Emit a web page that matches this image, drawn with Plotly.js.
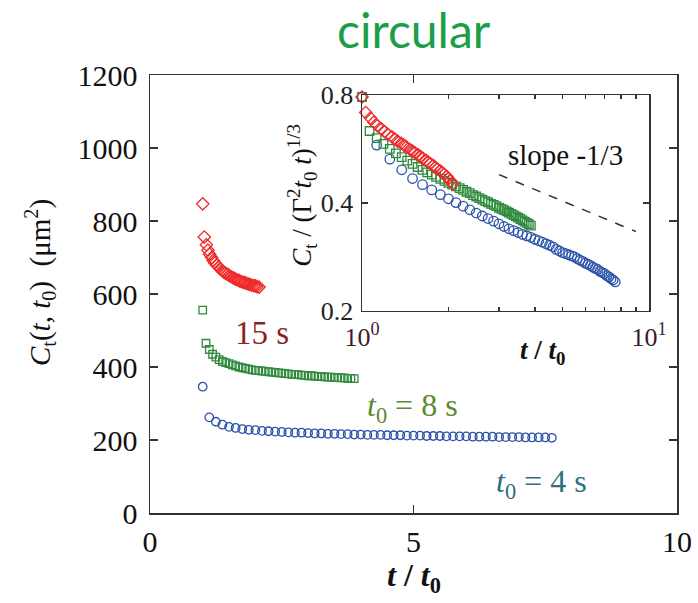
<!DOCTYPE html>
<html>
<head>
<meta charset="utf-8">
<script src="https://cdn.plot.ly/plotly-3.0.1.min.js"></script>
<style>html,body{margin:0;padding:0;background:#fff;}#chart{width:698px;height:603px;}</style>
</head>
<body>
<div id="chart"></div>
<script>
// ---- main panel data: C_t(t, t0) vs t/t0 ----
const redX = [1.00,1.03,1.07,1.10,1.13,1.17,1.20,1.23,1.27,1.30,1.33,1.37,1.40,1.43,1.47,1.50,1.53,1.57,1.60,1.63,1.67,1.70,1.73,1.77,1.80,1.83,1.87,1.90,1.93,1.97,2.00,2.03,2.07];
const redY = [847,756,735,720,709,700,692,685,679,674,669,664,660,657,654,651,648,645,643,640,638,636,634,632,631,629,627,626,624,623,622,620,619];

const greenX = [1.0,1.0625,1.125,1.1875,1.25,1.3125,1.375,1.4375,1.5,1.5625,1.625,1.6875,1.75,1.8125,1.875,1.9375,2.0,2.0625,2.125,2.1875,2.25,2.3125,2.375,2.4375,2.5,2.5625,2.625,2.6875,2.75,2.8125,2.875,2.9375,3.0,3.0625,3.125,3.1875,3.25,3.3125,3.375,3.4375,3.5,3.5625,3.625,3.6875,3.75,3.8125,3.875];
const greenY = [556,465,448,435,427,420,415,412,409,406,403,400,398,396,394,392,391,390,389,388,387,386,385,384,383,382,381,380,380,379,378,377,376,376,375,374,374,373,372,372,371,371,370,370,369,369,368];

const blueX = [1.0,1.125,1.25,1.375,1.5,1.625,1.75,1.875,2.0,2.125,2.25,2.375,2.5,2.625,2.75,2.875,3.0,3.125,3.25,3.375,3.5,3.625,3.75,3.875,4.0,4.125,4.25,4.375,4.5,4.625,4.75,4.875,5.0,5.125,5.25,5.375,5.5,5.625,5.75,5.875,6.0,6.125,6.25,6.375,6.5,6.625,6.75,6.875,7.0,7.125,7.25,7.375,7.5,7.625];
const blueY = [346,262,250,242,236,233,230,228,227,225,224,223,222,221,220,220,219,218,218,217,217,216,216,215,215,214,214,214,213,213,213,212,212,212,211,211,211,210,210,210,210,209,209,209,209,208,208,208,208,207,207,207,207,206];

// ---- inset data: C_t / (Γ^2 t0 t)^(1/3) vs t/t0 ----
const redInsetY = [0.79,0.715,0.690,0.672,0.657,0.643,0.632,0.622,0.612,0.603,0.595,0.587,0.580,0.573,0.564,0.558,0.552,0.545,0.539,0.533,0.526,0.520,0.515,0.509,0.503,0.498,0.492,0.487,0.481,0.475,0.468,0.461,0.452];
const greenInsetY = [0.79,0.635,0.607,0.585,0.566,0.550,0.537,0.525,0.514,0.504,0.495,0.487,0.480,0.473,0.467,0.461,0.455,0.450,0.445,0.440,0.435,0.430,0.426,0.421,0.417,0.413,0.409,0.405,0.402,0.398,0.395,0.392,0.388,0.385,0.382,0.379,0.376,0.373,0.370,0.367,0.364,0.361,0.358,0.355,0.352,0.349,0.346];
const blueInsetY = [0.79,0.58,0.53,0.495,0.468,0.450,0.435,0.422,0.411,0.401,0.392,0.383,0.375,0.368,0.362,0.356,0.350,0.344,0.339,0.335,0.331,0.327,0.324,0.321,0.317,0.314,0.311,0.308,0.305,0.302,0.297,0.294,0.291,0.289,0.287,0.285,0.283,0.280,0.277,0.275,0.272,0.270,0.268,0.265,0.263,0.261,0.258,0.256,0.254,0.251,0.249,0.246,0.244,0.241];

// slope -1/3 guide line
const slopeX = [3, 9];
const slopeY = [0.48, 0.333];

// ticks
const mainXTicks = [0, 5, 10];
const mainYTicks = [0, 200, 400, 600, 800, 1000, 1200];
const insetXTicks = [1,2,3,4,5,6,7,8,9,10];
const insetXText = ['10<sup>0</sup>','','','','','','','','','10<sup>1</sup>'];
const insetYTicks = [0.2, 0.4, 0.8];
const insetYText = ['0.2', '0.4', '0.8'];

const RED = '#ee2b2b', GREEN = '#2f8a3e', BLUE = '#2b52aa';
const SERIF = '"Liberation Serif", "Times New Roman", Times, serif';

const traces = [
  {x: blueX, y: blueY, mode: 'markers', type: 'scatter', xaxis: 'x', yaxis: 'y',
   marker: {symbol: 'circle-open', size: 8.5, color: BLUE, line: {width: 1.3}}},
  {x: greenX, y: greenY, mode: 'markers', type: 'scatter', xaxis: 'x', yaxis: 'y',
   marker: {symbol: 'square-open', size: 7.5, color: GREEN, line: {width: 1.3}}},
  {x: redX, y: redY, mode: 'markers', type: 'scatter', xaxis: 'x', yaxis: 'y',
   marker: {symbol: 'diamond-open', size: 9.5, color: RED, line: {width: 1.3}}},
  {x: blueX, y: blueInsetY, mode: 'markers', type: 'scatter', xaxis: 'x2', yaxis: 'y2', cliponaxis: false,
   marker: {symbol: 'circle-open', size: 9.5, color: BLUE, line: {width: 1.3}}},
  {x: greenX, y: greenInsetY, mode: 'markers', type: 'scatter', xaxis: 'x2', yaxis: 'y2', cliponaxis: false,
   marker: {symbol: 'square-open', size: 8.5, color: GREEN, line: {width: 1.3}}},
  {x: redX, y: redInsetY, mode: 'markers', type: 'scatter', xaxis: 'x2', yaxis: 'y2', cliponaxis: false,
   marker: {symbol: 'diamond-open', size: 9.5, color: RED, line: {width: 1.3}}},
  {x: slopeX, y: slopeY, mode: 'lines', type: 'scatter', xaxis: 'x2', yaxis: 'y2',
   line: {color: '#333', width: 1.5, dash: 'dash'}}
];

const axisCommon = {showgrid: false, zeroline: false, showline: true, linecolor: '#333', linewidth: 1.5,
  mirror: 'ticks', ticks: 'inside', tickcolor: '#333', tickwidth: 1.5};

const layout = {
  width: 698, height: 603,
  margin: {l: 150, r: 21, t: 75, b: 90},
  paper_bgcolor: '#fff', plot_bgcolor: 'rgba(0,0,0,0)',
  showlegend: false,
  font: {family: SERIF, color: '#111'},
  xaxis: Object.assign({}, axisCommon, {domain: [0, 1], range: [0, 10], tickvals: mainXTicks, ticklen: 8,
    tickfont: {family: SERIF, size: 30, color: '#111'}, ticklabelstandoff: 1}),
  yaxis: Object.assign({}, axisCommon, {domain: [0, 1], range: [0, 1200], tickvals: mainYTicks, ticklen: 8,
    tickfont: {family: SERIF, size: 30, color: '#111'}, ticklabelstandoff: 5}),
  xaxis2: Object.assign({}, axisCommon, {domain: [0.4023, 0.9469], type: 'log', range: [0, 1], anchor: 'y2',
    tickvals: insetXTicks, ticktext: insetXText, ticklen: 4,
    tickfont: {family: SERIF, size: 26, color: '#3a1a30'}, ticklabelstandoff: 2}),
  yaxis2: Object.assign({}, axisCommon, {domain: [0.4612, 0.9543], type: 'log', range: [Math.log10(0.2), Math.log10(0.8)], anchor: 'x2',
    tickvals: insetYTicks, ticktext: insetYText, ticklen: 6,
    tickfont: {family: SERIF, size: 26, color: '#222'}, ticklabelstandoff: 2}),
  annotations: [
    {text: 'circular', xref: 'paper', yref: 'paper', x: 0.5, y: 1.103, showarrow: false,
     xanchor: 'center', yanchor: 'middle', font: {family: 'Lato, "Open Sans", sans-serif', size: 48, color: '#1a9e48'}},
    {text: '<i>C</i><sub>t</sub>(<i>t</i>, <i>t</i><sub>0</sub>)  (μm<sup>2</sup>)', xref: 'paper', yref: 'paper',
     x: -0.2087, y: 0.525, textangle: -90, showarrow: false, xanchor: 'center', yanchor: 'middle',
     font: {family: SERIF, size: 29, color: '#111'}},
    {text: '<b><i>t</i> / <i>t</i><sub>0</sub></b>', xref: 'paper', yref: 'paper', x: 0.5, y: -0.148,
     showarrow: false, xanchor: 'center', yanchor: 'middle', font: {family: SERIF, size: 32, color: '#111'}},
    {text: '<i>C</i><sub>t</sub> / (Γ<sup>2</sup><i>t</i><sub>0</sub> <i>t</i>)<sup>1/3</sup>', xref: 'paper', yref: 'paper',
     x: 0.288, y: 0.726, textangle: -90, showarrow: false, xanchor: 'center', yanchor: 'middle',
     font: {family: SERIF, size: 27, color: '#111'}},
    {text: '<b><i>t</i> / <i>t</i><sub>0</sub></b>', xref: 'paper', yref: 'paper', x: 0.746, y: 0.368,
     showarrow: false, xanchor: 'center', yanchor: 'middle', font: {family: SERIF, size: 27, color: '#111'}},
    {text: 'slope -1/3', xref: 'paper', yref: 'paper', x: (565-150)/527, y: (513-155)/438,
     showarrow: false, xanchor: 'center', yanchor: 'middle', font: {family: SERIF, size: 29, color: '#111'}},
    {text: '15 s', xref: 'x', yref: 'y', x: 2.125, y: 493, showarrow: false, xanchor: 'center', yanchor: 'middle',
     font: {family: SERIF, size: 33, color: '#8c1f28'}},
    {text: '<i>t</i><sub>0</sub> = 8 s', xref: 'x', yref: 'y', x: 4.99, y: 288, showarrow: false, xanchor: 'center', yanchor: 'middle',
     font: {family: SERIF, size: 32, color: '#5a8a30'}},
    {text: '<i>t</i><sub>0</sub> = 4 s', xref: 'x', yref: 'y', x: 7.42, y: 82, showarrow: false, xanchor: 'center', yanchor: 'middle',
     font: {family: SERIF, size: 32, color: '#2e7080'}}
  ]
};

Plotly.newPlot('chart', traces, layout, {staticPlot: true, displayModeBar: false});
</script>
</body>
</html>
